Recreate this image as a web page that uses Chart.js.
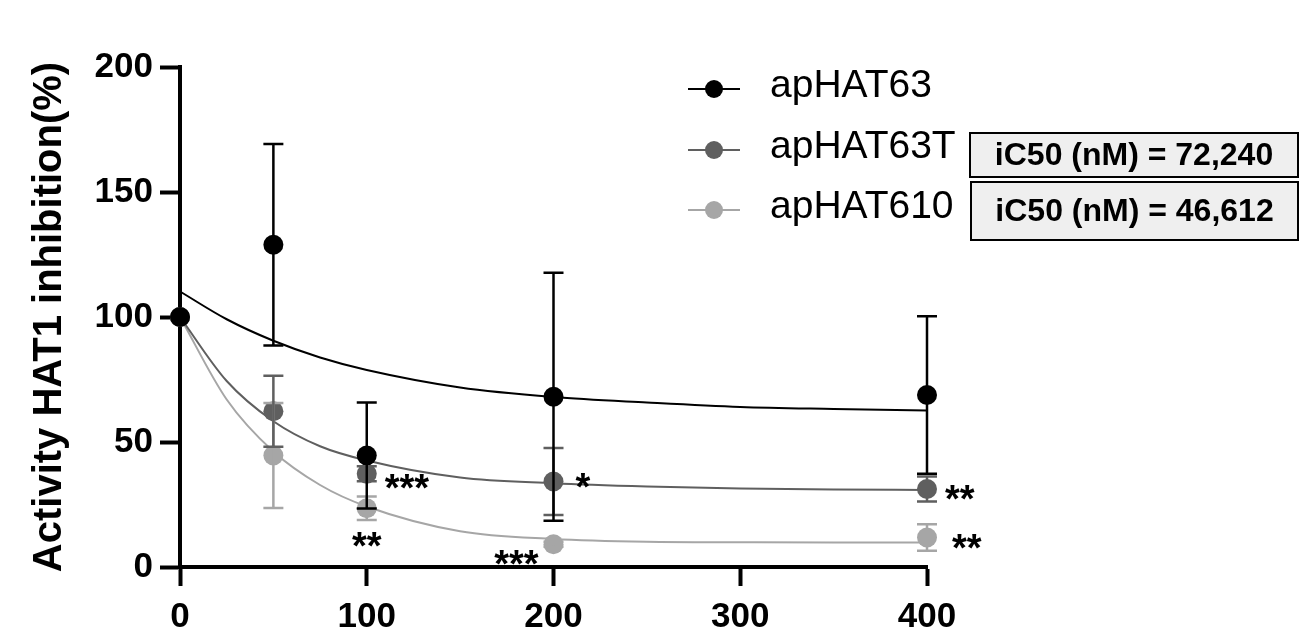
<!DOCTYPE html>
<html>
<head>
<meta charset="utf-8">
<script src="https://cdn.jsdelivr.net/npm/chart.js"></script>
<style>
  body { margin: 0; background: #fff; }
  #wrap { width: 1306px; height: 640px; position: relative; }
</style>
</head>
<body>
<div id="wrap"><canvas id="hat1"></canvas></div>
<script>
// measured doses (x) and mean activity with SD
var doses = [0, 50, 100, 200, 400];
var apHAT63 = [100, 128.9, 44.6, 68.1, 68.8];
var apHAT63Sd = [0, 40.3, 21.2, 49.6, 31.5];
var apHAT63T = [100, 62.3, 37.3, 34.2, 31.2];
var apHAT63TSd = [0, 14.2, 3, 13.4, 5];
var apHAT610 = [100, 44.6, 23.5, 9.1, 11.8];
var apHAT610Sd = [0, 21, 4.7, 1, 5.3];

// fitted curves
var fitDoses = [0, 25, 50, 75, 100, 150, 200, 250, 300, 350, 400];
var fit63 = [110.2, 99.1, 90.5, 83.8, 78.8, 71.8, 68, 65.8, 64, 63.2, 62.6];
var fit63T = [100, 74.4, 58.3, 48.3, 42.6, 35.8, 33.5, 32.2, 31.4, 31, 30.8];
var fit610 = [100, 67, 46.2, 32.8, 24.2, 14.3, 11.2, 10.1, 9.9, 9.8, 9.8];

// significance marks
var sig63 = ['', '', '', '', ''];
var sig63T = ['', '', '***', '*', '**'];
var sig610 = ['', '', '**', '***', '**'];

var xTicks = [0, 100, 200, 300, 400];
var yTicks = [0, 50, 100, 150, 200];
var ic50Labels = ['iC50 (nM) = 72,240', 'iC50 (nM) = 46,612'];

var FONT = "'Liberation Sans', Arial, Helvetica, sans-serif";

var series = [
    {name: 'apHAT63', color: '#000000', values: apHAT63, sd: apHAT63Sd, fit: fit63, sig: sig63},
    {name: 'apHAT63T', color: '#5f5f5f', values: apHAT63T, sd: apHAT63TSd, fit: fit63T, sig: sig63T},
    {name: 'apHAT610', color: '#a6a6a6', values: apHAT610, sd: apHAT610Sd, fit: fit610, sig: sig610}
];

function toXY(xs, ys) {
    var out = [];
    for (var i = 0; i < xs.length; i++) out.push({x: xs[i], y: ys[i]});
    return out;
}

var datasets = [];
series.forEach(function (s) {
    datasets.push({
        label: s.name,
        data: toXY(doses, s.values),
        showLine: false,
        pointRadius: 10,
        pointBackgroundColor: s.color,
        pointBorderWidth: 0,
        clip: false,
        order: 0
    });
});
series.forEach(function (s) {
    datasets.push({
        label: s.name + ' fit',
        data: toXY(fitDoses, s.fit),
        showLine: true,
        pointRadius: 0,
        borderColor: s.color,
        borderWidth: 2,
        cubicInterpolationMode: 'monotone',
        clip: false,
        order: 1
    });
});

var errorBars = {
    id: 'errorBars',
    afterDatasetsDraw: function (chart) {
        var ctx = chart.ctx, xs = chart.scales.x, ys = chart.scales.y;
        ctx.save();
        for (var k = series.length - 1; k >= 0; k--) {
            var s = series[k];
            ctx.strokeStyle = s.color;
            ctx.lineWidth = 2.5;
            for (var i = 0; i < doses.length; i++) {
                if (!s.sd[i]) continue;
                var px = xs.getPixelForValue(doses[i]);
                var top = ys.getPixelForValue(s.values[i] + s.sd[i]);
                var bot = ys.getPixelForValue(s.values[i] - s.sd[i]);
                ctx.beginPath();
                ctx.moveTo(px, top); ctx.lineTo(px, bot);
                ctx.moveTo(px - 10, top); ctx.lineTo(px + 10, top);
                ctx.moveTo(px - 10, bot); ctx.lineTo(px + 10, bot);
                ctx.stroke();
            }
        }
        // stars
        var spots = [
            {s: 1, i: 2, dx: 18, dy: 5, align: 'left'},
            {s: 1, i: 3, dx: 22, dy: -4, align: 'left'},
            {s: 1, i: 4, dx: 18, dy: 1, align: 'left'},
            {s: 2, i: 2, dx: 0, dy: 29, align: 'center'},
            {s: 2, i: 3, dx: -15, dy: 11, align: 'right'},
            {s: 2, i: 4, dx: 25, dy: 1, align: 'left'}
        ];
        ctx.fillStyle = '#000';
        ctx.font = 'bold 38px ' + FONT;
        ctx.textBaseline = 'alphabetic';
        spots.forEach(function (p) {
            var s = series[p.s];
            var px = xs.getPixelForValue(doses[p.i]);
            var py = ys.getPixelForValue(s.values[p.i]);
            ctx.textAlign = p.align;
            ctx.fillText(s.sig[p.i], px + p.dx, py + p.dy + 22);
        });
        ctx.restore();
    }
};

var legendBoxes = {
    id: 'legendBoxes',
    afterDraw: function (chart) {
        var ctx = chart.ctx;
        ctx.save();
        var rows = [89, 150, 210];
        series.forEach(function (s, k) {
            var y = rows[k];
            ctx.strokeStyle = s.color;
            ctx.lineWidth = 2;
            ctx.beginPath();
            ctx.moveTo(688, y); ctx.lineTo(740, y);
            ctx.stroke();
            ctx.fillStyle = s.color;
            ctx.beginPath();
            ctx.arc(714, y, 9, 0, Math.PI * 2);
            ctx.fill();
            ctx.fillStyle = '#000';
            ctx.font = '39px ' + FONT;
            ctx.textAlign = 'left';
            ctx.textBaseline = 'alphabetic';
            ctx.fillText(s.name, 770, y + 8);
        });
        var boxes = [[970, 133, 328, 44], [971, 182, 327, 58]];
        boxes.forEach(function (b, k) {
            ctx.fillStyle = '#efefef';
            ctx.fillRect(b[0], b[1], b[2], b[3]);
            ctx.strokeStyle = '#000';
            ctx.lineWidth = 2;
            ctx.strokeRect(b[0], b[1], b[2], b[3]);
            ctx.fillStyle = '#000';
            ctx.font = 'bold 32px ' + FONT;
            ctx.textAlign = 'center';
            ctx.textBaseline = 'middle';
            ctx.fillText(ic50Labels[k], b[0] + b[2] / 2, b[1] + b[3] / 2 + 1);
        });
        ctx.restore();
    }
};

var ctx = document.getElementById('hat1');
var myChart = new Chart(ctx, {
    type: 'scatter',
    data: {datasets: datasets},
    options: {
        responsive: true,
        maintainAspectRatio: false,
        animation: false,
        layout: {padding: {left: 26, top: 67, right: 379, bottom: 0}},
        plugins: {legend: {display: false}, tooltip: {enabled: false}},
        scales: {
            x: {
                type: 'linear',
                min: 0, max: 400,
                afterFit: function (scale) { scale.height = 73; },
                afterBuildTicks: function (scale) {
                    scale.ticks = xTicks.map(function (v) { return {value: v}; });
                },
                grid: {drawOnChartArea: false, drawTicks: true, tickLength: 19, tickWidth: 4, tickColor: '#000'},
                border: {color: '#000', width: 4},
                ticks: {color: '#000', padding: 10, font: {family: FONT, size: 35, weight: 'bold'}, maxRotation: 0}
            },
            y: {
                min: 0, max: 200,
                afterFit: function (scale) { scale.width = 154; },
                afterBuildTicks: function (scale) {
                    scale.ticks = yTicks.map(function (v) { return {value: v}; });
                },
                grid: {drawOnChartArea: false, drawTicks: true, tickLength: 20, tickWidth: 4, tickColor: '#000'},
                border: {color: '#000', width: 4},
                ticks: {color: '#000', padding: 7, font: {family: FONT, size: 35, weight: 'bold'}},
                title: {
                    display: true,
                    text: 'Activity HAT1 inhibition(%)',
                    color: '#000',
                    padding: 0,
                    font: {family: FONT, size: 40, weight: 'bold'}
                }
            }
        }
    },
    plugins: [errorBars, legendBoxes]
});
</script>
</body>
</html>
